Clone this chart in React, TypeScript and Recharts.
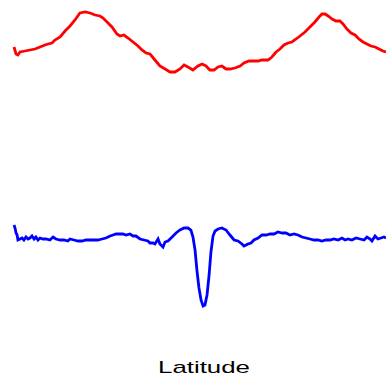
import { LineChart, Line, XAxis, YAxis } from 'recharts'

// red profile: latitude (deg) and value
const redLat = [
  -90, -89.0, -88.1, -87.1, -84.7, -82.3, -79.8, -77.4, -75.0, -73.5, -71.6, -70.2, -67.7, -65.3, -62.9, -60.5,
  -58.1, -55.6, -53.2, -50.8, -48.4, -46.9, -44.5, -42.6, -40.2, -38.7, -36.8, -34.8, -32.4, -30.0, -28.1, -26.1,
  -24.2, -21.8, -19.4, -16.9, -14.5, -12.1, -9.7, -7.7, -5.8, -3.4, -1.0, 1.0, 2.9, 4.8, 6.8, 8.7, 10.6, 12.6,
  14.5, 16.9, 19.4, 21.3, 23.7, 26.1, 28.1, 30.0, 32.9, 34.8, 36.8, 38.7, 40.6, 42.6, 44.5, 46.5, 48.4, 50.8,
  53.2, 55.6, 57.6, 59.0, 60.5, 62.0, 63.9, 65.8, 67.7, 69.2, 71.1, 73.1, 75.0, 76.9, 78.9, 80.8, 82.7, 84.7,
  86.6, 88.5, 90,
]
const redValues = [
  293, 286, 285, 288, 289, 290, 291, 293, 295, 296, 297, 300, 303, 309, 314, 320,
  327, 328, 327, 325, 324, 322, 317, 313, 306, 304, 305, 302, 298, 294, 290, 287,
  286, 280, 274, 271, 268, 268, 271, 275, 273, 270, 274, 276, 274, 270, 270, 273, 274, 271,
  271, 272, 274, 277, 279, 279, 279, 280, 280, 283, 288, 291, 295, 297, 298, 301, 304, 308,
  313, 318, 323, 326, 326, 324, 321, 319, 319, 316, 311, 307, 305, 301, 298, 296, 294, 293,
  291, 289, 288,
]

// blue profile
const blueLat = [
  -90, -89.5, -89.0, -88.5, -88.1, -87.1, -86.1, -85.2, -84.2, -83.2, -82.3, -81.3, -80.3, -79.4, -78.4, -77.4,
  -76.0, -74.5, -72.6, -71.1, -69.7, -67.7, -65.8, -63.9, -62.9, -61.0, -59.0, -57.1, -55.2, -53.2, -51.3, -49.4,
  -47.4, -45.5, -43.5, -42.1, -40.6, -38.7, -37.3, -35.8, -33.9, -32.4, -31.0, -29.0, -27.1, -25.2, -24.2, -22.7,
  -21.8, -20.3, -19.4, -17.9, -16.9, -15.5, -13.5, -11.6, -9.7, -7.7, -5.8, -4.4, -3.4, -2.4, -1.5, -0.5, 0.5,
  1.5, 2.4, 3.4, 4.4, 5.3, 6.3, 7.3, 8.7, 10.6, 12.6, 14.5, 16.5, 18.4, 20.3, 21.3, 23.2, 24.7, 26.1, 28.1, 30.0,
  32.0, 33.9, 35.8, 37.7, 39.7, 41.6, 43.5, 45.5, 47.4, 49.4, 51.3, 53.2, 55.2, 57.1, 59.0, 61.0, 62.9, 64.8,
  66.8, 68.7, 70.2, 71.6, 73.5, 75.5, 77.4, 79.4, 80.8, 82.3, 83.2, 84.7, 86.1, 87.6, 89.0, 90,
]
const blueValues = [
  115, 112, 107, 105, 100, 101, 102, 100, 103, 101, 102, 104, 101, 103, 100, 102,
  101, 101, 100, 103, 101, 100, 100, 99, 101, 100, 99, 99, 100, 100, 100, 100,
  101, 102, 104, 105, 106, 106, 106, 105, 106, 104, 104, 101, 100, 99, 97, 97,
  96, 101, 96, 93, 98, 99, 103, 107, 110, 112, 112, 110, 103, 90, 70, 52, 40,
  34, 35, 45, 65, 88, 104, 109, 111, 112, 110, 105, 100, 99, 96, 94, 96, 97, 100, 102, 105,
  105, 106, 106, 108, 107, 107, 105, 106, 105, 103, 102, 101, 100, 100, 99, 100, 100, 101,
  100, 102, 100, 101, 100, 102, 101, 100, 103, 101, 99, 104, 101, 102, 103, 102,
]

const redData = redLat.map((lat, i) => ({ lat, value: redValues[i] }))
const blueData = blueLat.map((lat, i) => ({ lat, value: blueValues[i] }))

const XLabel = ({ viewBox }: any) => {
  const cx = viewBox.x + viewBox.width / 2
  return (
    <text
      x={cx + 4}
      y={373}
      textAnchor="middle"
      fontSize={17}
      fontFamily="Liberation Sans, Arial, sans-serif"
      fill="#000"
      textLength={92}
      lengthAdjust="spacingAndGlyphs"
    >
      Latitude
    </text>
  )
}

export default function App() {
  return (
    <div style={{ position: 'absolute', left: 0, top: 0, width: 386, height: 377, background: '#fff' }}>
      <LineChart width={386} height={377} margin={{ top: 0, right: 0, bottom: 0, left: 14 }}>
        <XAxis
          dataKey="lat"
          type="number"
          domain={[-90, 90]}
          height={37}
          axisLine={false}
          tickLine={false}
          tick={false}
          label={<XLabel />}
        />
        <YAxis hide domain={[0, 340]} />
        <Line
          data={redData}
          dataKey="value"
          stroke="#ff0000"
          strokeWidth={2.8}
          dot={false}
          type="linear"
          isAnimationActive={false}
        />
        <Line
          data={blueData}
          dataKey="value"
          stroke="#0000ff"
          strokeWidth={2.8}
          dot={false}
          type="linear"
          isAnimationActive={false}
        />
      </LineChart>
    </div>
  )
}
